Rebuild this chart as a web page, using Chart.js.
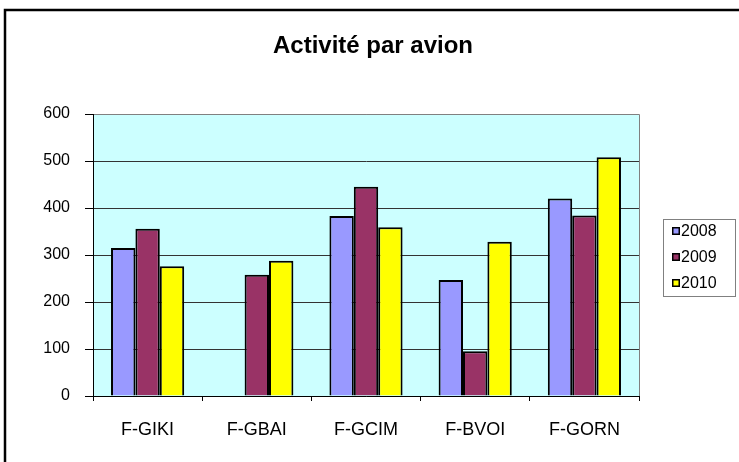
<!DOCTYPE html>
<html>
<head>
<meta charset="utf-8">
<script src="https://cdn.jsdelivr.net/npm/chart.js@4/dist/chart.umd.min.js"></script>
<style>
  body { margin: 0; background: #fff; }
  canvas { display: block; }
</style>
</head>
<body>
<canvas id="chart1" width="739" height="462"></canvas>
<script>
const categories = ['F-GIKI', 'F-GBAI', 'F-GCIM', 'F-BVOI', 'F-GORN'];
const years = ['2008', '2009', '2010'];
const values2008 = [315, null, 383, 247, 420];
const values2009 = [356, 258, 445, 95, 384];
const values2010 = [276, 288, 359, 328, 508];
const yTicks = [0, 100, 200, 300, 400, 500, 600];

Chart.defaults.font.family = "'Liberation Sans', Arial, sans-serif";
Chart.defaults.color = '#000';

// plot background, outer frame and the boxed legend on the right
const excelLook = {
  id: 'excelLook',
  beforeDraw(chart) {
    const { ctx, chartArea: a } = chart;
    ctx.save();
    ctx.fillStyle = '#ccffff';
    ctx.fillRect(a.left, a.top, a.right - a.left, a.bottom - a.top);
    ctx.strokeStyle = '#808080';
    ctx.lineWidth = 1;
    ctx.beginPath();
    ctx.moveTo(a.left, a.top + 0.5);
    ctx.lineTo(a.right + 0.5, a.top + 0.5);
    ctx.lineTo(a.right + 0.5, a.bottom);
    ctx.stroke();
    // outer frame
    ctx.strokeStyle = '#000';
    ctx.lineWidth = 2.5;
    ctx.beginPath();
    ctx.moveTo(5, 470);
    ctx.lineTo(5, 10);
    ctx.lineTo(745, 10);
    ctx.stroke();
    ctx.restore();
  },
  afterDraw(chart) {
    const { ctx, chartArea: a } = chart;
    const x0 = a.right + 24, y0 = 219;
    ctx.save();
    ctx.strokeStyle = '#808080';
    ctx.lineWidth = 1;
    ctx.strokeRect(x0 + 0.5, y0 + 0.5, 72, 77);
    ctx.font = "16px 'Liberation Sans', Arial, sans-serif";
    ctx.textBaseline = 'middle';
    chart.data.datasets.forEach((ds, i) => {
      const cy = y0 + 12 + i * 26;
      ctx.fillStyle = '#000';
      ctx.fillRect(x0 + 9, cy - 4, 8, 8);
      ctx.fillStyle = ds.backgroundColor;
      ctx.fillRect(x0 + 10.5, cy - 2.5, 5, 5);
      ctx.fillStyle = '#000';
      ctx.fillText(ds.label, x0 + 18, cy + 1);
    });
    ctx.restore();
  }
};

new Chart(document.getElementById('chart1'), {
  type: 'bar',
  data: {
    labels: categories,
    datasets: [
      { label: years[0], data: values2008, backgroundColor: '#9999ff' },
      { label: years[1], data: values2009, backgroundColor: '#993366' },
      { label: years[2], data: values2010, backgroundColor: '#ffff00' }
    ]
  },
  options: {
    responsive: false,
    animation: false,
    layout: { padding: { left: 7, right: 0, top: 0, bottom: 0 } },
    datasets: {
      bar: {
        borderColor: '#000',
        borderWidth: 2,
        categoryPercentage: 0.67,
        barPercentage: 1
      }
    },
    scales: {
      x: {
        grid: { drawOnChartArea: false, tickLength: 5, color: '#000' },
        border: { color: '#000' },
        ticks: { font: { size: 18 }, padding: 18 },
        afterFit: (s) => { s.height = 66; }
      },
      y: {
        min: 0,
        max: 600,
        afterBuildTicks: (s) => { s.ticks = yTicks.map(v => ({ value: v })); },
        grid: {
          color: (c) => (c.tick && c.tick.value === 600 ? '#808080' : '#333'),
          tickColor: '#000',
          tickLength: 8
        },
        border: { color: '#000' },
        ticks: { font: { size: 16 }, padding: 15 },
        afterFit: (s) => { s.width = 86; }
      },
      spacer: {
        type: 'linear',
        position: 'right',
        grid: { display: false },
        ticks: { display: false },
        border: { display: false },
        afterFit: (s) => { s.width = 100; }
      }
    },
    plugins: {
      legend: { display: false },
      tooltip: { enabled: false },
      title: {
        display: true,
        text: 'Activité par avion',
        font: { size: 24, weight: 'bold' },
        padding: { top: 31.6, bottom: 53.6 }
      }
    }
  },
  plugins: [excelLook]
});
</script>
</body>
</html>
